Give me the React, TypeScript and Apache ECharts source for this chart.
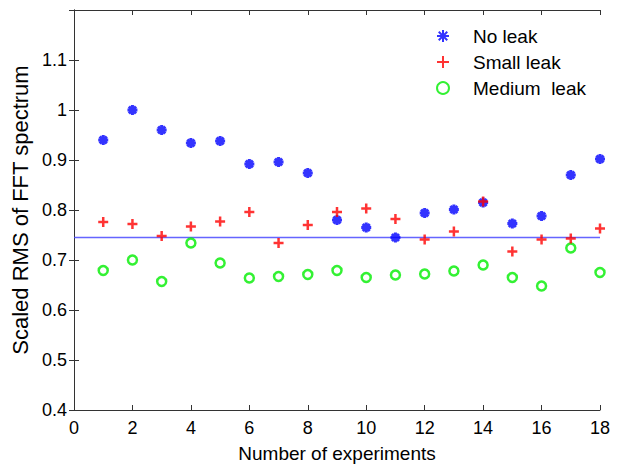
import React, { useEffect, useRef } from "react";
import * as echarts from "echarts";

const experiments = [1, 2, 3, 4, 5, 6, 7, 8, 9, 10, 11, 12, 13, 14, 15, 16, 17, 18];
const noLeak = [0.940, 1.000, 0.960, 0.934, 0.938, 0.892, 0.896, 0.874, 0.780, 0.765, 0.745, 0.794, 0.801, 0.815, 0.773, 0.788, 0.870, 0.902];
const smallLeak = [0.776, 0.772, 0.748, 0.767, 0.777, 0.796, 0.734, 0.770, 0.796, 0.803, 0.782, 0.741, 0.757, 0.817, 0.717, 0.741, 0.743, 0.763];
const mediumLeak = [0.679, 0.700, 0.657, 0.734, 0.694, 0.664, 0.667, 0.671, 0.679, 0.665, 0.670, 0.672, 0.678, 0.690, 0.665, 0.648, 0.724, 0.675];
const thresholdLine = [[0, 0.745], [18, 0.745]];
const seriesNames = ["No leak", "Small leak", "Medium  leak"];

const FONT = "'Liberation Sans', Arial, sans-serif";
const STAR = "path://M0,-1L0,1M-1,0L1,0M-0.71,-0.71L0.71,0.71M-0.71,0.71L0.71,-0.71";
const PLUS = "path://M0,-1L0,1M-1,0L1,0";

export default function App() {
  const ref = useRef<HTMLDivElement>(null);
  useEffect(() => {
    if (!ref.current) return;
    const chart = echarts.init(ref.current, undefined, { renderer: "svg" });
    const axisLine = { show: true, lineStyle: { color: "#333", width: 1 } };
    const tick = { show: true, inside: true, length: 5, lineStyle: { color: "#333" } };
    const pair = (arr: number[]) => arr.map((v, i) => [experiments[i], v]);
    chart.setOption({
      animation: false,
      backgroundColor: "#fff",
      textStyle: { fontFamily: FONT },
      grid: { left: 74, right: 24, top: 10, bottom: 55 },
      legend: {
        data: seriesNames,
        orient: "vertical",
        left: 431,
        top: 21,
        itemGap: 6,
        itemWidth: 12,
        itemHeight: 12,
        textStyle: { fontSize: 19, lineHeight: 20, color: "#000", fontFamily: FONT, padding: [0, 0, 0, 19] },
      },
      xAxis: [
        {
          type: "value",
          min: 0,
          max: 18,
          interval: 2,
          name: "Number of experiments",
          nameLocation: "middle",
          nameGap: 34,
          nameTextStyle: { fontSize: 19, color: "#000", fontFamily: FONT },
          axisLine,
          axisTick: tick,
          axisLabel: { fontSize: 18, color: "#000", margin: 9, fontFamily: FONT },
          splitLine: { show: false },
        },
        {
          type: "value",
          position: "top",
          min: 0,
          max: 18,
          interval: 2,
          axisLine,
          axisTick: tick,
          axisLabel: { show: false },
          splitLine: { show: false },
        },
      ],
      yAxis: [
        {
          type: "value",
          min: 0.4,
          max: 1.2,
          interval: 0.1,
          name: "Scaled RMS of FFT spectrum",
          nameLocation: "middle",
          nameGap: 41,
          nameTextStyle: { fontSize: 22, color: "#000", fontFamily: FONT },
          axisLine,
          axisTick: tick,
          axisLabel: {
            fontSize: 18,
            color: "#000",
            margin: 7,
            fontFamily: FONT,
            formatter: (v: number) => (Math.abs(v - 1.2) < 1e-6 ? "" : String(+v.toFixed(1))),
          },
          splitLine: { show: false },
        },
        {
          type: "value",
          position: "right",
          min: 0.4,
          max: 1.2,
          interval: 0.1,
          axisLine,
          axisTick: tick,
          axisLabel: { show: false },
          splitLine: { show: false },
        },
      ],
      series: [
        {
          name: "threshold",
          type: "line",
          data: thresholdLine,
          symbol: "none",
          color: "#4a4aff",
          lineStyle: { color: "#4a4aff", width: 1.5, opacity: 0.85 },
          silent: true,
          z: 1,
        },
        {
          name: seriesNames[0],
          type: "scatter",
          data: pair(noLeak),
          symbol: STAR,
          symbolSize: 10,
          itemStyle: { color: "#0000ff", borderColor: "#0000ff", borderWidth: 3 },
          z: 3,
        },
        {
          name: seriesNames[1],
          type: "scatter",
          data: pair(smallLeak),
          symbol: PLUS,
          symbolSize: 10,
          itemStyle: { color: "#ff0000", borderColor: "#ff0000", borderWidth: 2.5 },
          z: 4,
        },
        {
          name: seriesNames[2],
          type: "scatter",
          data: pair(mediumLeak),
          symbol: "circle",
          symbolSize: 9,
          itemStyle: { color: "rgba(0,0,0,0)", borderColor: "#00ee00", borderWidth: 2.5 },
          z: 2,
        },
      ],
    });
    return () => chart.dispose();
  }, []);
  return (
    <div
      ref={ref}
      style={{ position: "absolute", left: 0, top: 0, width: 624, height: 468 }}
    />
  );
}
